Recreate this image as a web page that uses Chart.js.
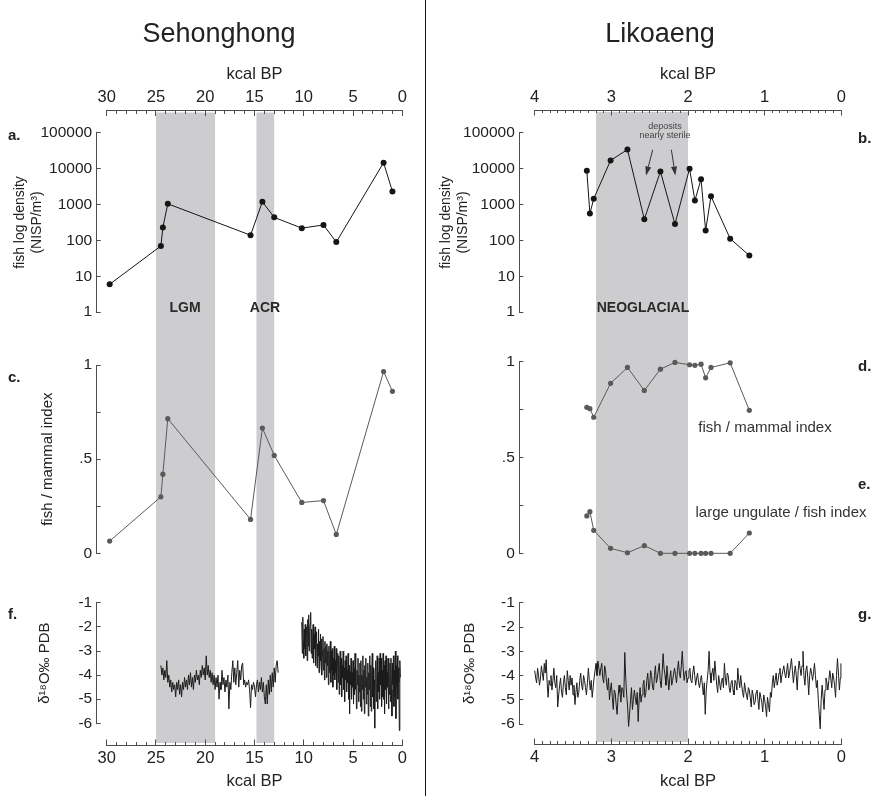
<!DOCTYPE html>
<html>
<head>
<meta charset="utf-8">
<title>Sehonghong / Likoaeng</title>
<script src="https://cdn.jsdelivr.net/npm/chart.js@4.4.1/dist/chart.umd.min.js"></script>
<style>
  html, body { margin: 0; padding: 0; background: #fff; }
  #fig { position: relative; width: 876px; height: 796px; overflow: hidden;
         font-family: "Liberation Sans", Arial, sans-serif; color: #222; }
  #fig canvas { position: absolute; }
  .lbl { position: absolute; transform: translate(-50%, -50%); white-space: nowrap; }
  .site { font-size: 27px; }
  .tag { position: absolute; transform: translateY(-50%); font-weight: bold; font-size: 15px; }
  .zone { font-weight: bold; font-size: 14px; color: #2a2a2a; }
  .note { font-size: 9px; color: #444; }
  .idx { font-size: 15px; color: #333; }
  #divider { position: absolute; left: 424.5px; top: 0; width: 1.5px; height: 796px; background: #111; }
</style>
</head>
<body>
<div id="fig">
  <canvas id="bgL" width="425" height="796" style="left:0;top:0"></canvas>
  <canvas id="bgR" width="450" height="796" style="left:426px;top:0"></canvas>
  <canvas id="pa" width="425" height="215" style="left:0;top:115px"></canvas>
  <canvas id="pc" width="425" height="235" style="left:0;top:340px"></canvas>
  <canvas id="pf" width="425" height="175" style="left:0;top:585px"></canvas>
  <canvas id="pb" width="450" height="215" style="left:426px;top:115px"></canvas>
  <canvas id="pde" width="450" height="235" style="left:426px;top:340px"></canvas>
  <canvas id="pg" width="450" height="175" style="left:426px;top:585px"></canvas>

  <div id="divider"></div>

  <div class="lbl site" style="left:219px;top:33px">Sehonghong</div>
  <div class="lbl site" style="left:660px;top:33px">Likoaeng</div>

  <div class="tag" style="left:8px;top:134px">a.</div>
  <div class="tag" style="left:8px;top:376px">c.</div>
  <div class="tag" style="left:8px;top:613px">f.</div>
  <div class="tag" style="left:858px;top:137px">b.</div>
  <div class="tag" style="left:858px;top:365px">d.</div>
  <div class="tag" style="left:858px;top:483px">e.</div>
  <div class="tag" style="left:858px;top:613px">g.</div>

  <div class="lbl zone" style="left:185px;top:307px">LGM</div>
  <div class="lbl zone" style="left:265px;top:307px">ACR</div>
  <div class="lbl zone" style="left:643px;top:307px">NEOGLACIAL</div>

  <div class="lbl note" style="left:665px;top:126px">deposits</div>
  <div class="lbl note" style="left:665px;top:135px">nearly sterile</div>

  <div class="lbl idx" style="left:765px;top:426px">fish / mammal index</div>
  <div class="lbl idx" style="left:781px;top:511px">large ungulate / fish index</div>
</div>

<script>
// Sehonghong faunal samples (kcal BP)
const sehAge = [29.7, 24.5, 24.3, 23.8, 15.4, 14.2, 13.0, 10.2, 8.0, 6.7, 1.9, 1.0];
const sehFishDensity = [6, 70, 230, 1050, 140, 1200, 440, 220, 270, 90, 14700, 2300];
const sehFishMammal = [0.065, 0.30, 0.42, 0.715, 0.18, 0.665, 0.52, 0.27, 0.28, 0.10, 0.965, 0.86];

// Likoaeng faunal samples (kcal BP)
const likAge = [3.32, 3.28, 3.23, 3.01, 2.79, 2.57, 2.36, 2.17, 1.98, 1.91, 1.83, 1.77, 1.70, 1.45, 1.20];
const likFishDensity = [8700, 560, 1450, 17000, 34000, 390, 8400, 285, 10000, 1300, 5100, 190, 1700, 112, 38];
const likFishMammal = [0.762, 0.755, 0.71, 0.887, 0.97, 0.85, 0.961, 0.996, 0.984, 0.981, 0.987, 0.916, 0.97, 0.994, 0.746];
const likUngulateFish = [0.195, 0.217, 0.12, 0.026, 0.003, 0.04, 0, 0, 0, 0, 0, 0, 0, 0, 0.106];

// speleothem d18O, Sehonghong side: older segment
const sehO18AgeA = [
  24.5, 24.4, 24.3, 24.2, 24.1, 24.0, 23.9, 23.8, 23.7, 23.6,
  23.5, 23.4, 23.3, 23.2, 23.1, 23.0, 22.9, 22.8, 22.7, 22.6,
  22.5, 22.4, 22.3, 22.2, 22.1, 22.0, 21.9, 21.8, 21.7, 21.6,
  21.5, 21.4, 21.3, 21.2, 21.1, 21.0, 20.9, 20.8, 20.7, 20.6,
  20.5, 20.4, 20.3, 20.2, 20.1, 20.0, 19.9, 19.8, 19.7, 19.6,
  19.5, 19.4, 19.3, 19.2, 19.1, 19.0, 18.9, 18.8, 18.7, 18.6,
  18.5, 18.4, 18.3, 18.2, 18.1, 18.0, 17.9, 17.8, 17.7, 17.6,
  17.5, 17.4, 17.3, 17.2, 17.1, 17.0, 16.9, 16.8, 16.7, 16.6,
  16.5, 16.4, 16.3, 16.2, 16.1, 16.0, 15.9, 15.8, 15.7, 15.6,
  15.5, 15.4, 15.3, 15.2, 15.1, 15.0, 14.9, 14.8, 14.7, 14.6,
  14.5, 14.4, 14.3, 14.2, 14.1, 14.0, 13.9, 13.8, 13.7, 13.6,
  13.5, 13.4, 13.3, 13.2, 13.1, 13.0, 12.9, 12.8, 12.7, 12.6
];
const sehO18A = [
  -3.6, -4.0, -3.7, -4.2, -3.8, -4.1, -3.4, -4.3, -4.0, -4.5,
  -4.2, -4.7, -4.3, -4.6, -4.4, -4.9, -4.3, -4.6, -4.2, -4.8,
  -4.4, -4.9, -4.3, -4.6, -4.1, -4.5, -4.2, -4.6, -4.0, -4.4,
  -3.9, -4.5, -4.1, -4.6, -4.0, -4.3, -3.8, -4.2, -4.0, -4.4,
  -3.8, -4.1, -3.6, -4.0, -3.7, -4.2, -3.2, -4.0, -3.6, -4.1,
  -3.8, -4.3, -3.9, -4.4, -4.0, -4.6, -4.1, -4.5, -4.0, -5.0,
  -4.3, -4.6, -3.8, -4.4, -4.1, -4.7, -4.2, -4.5, -4.0, -5.4,
  -4.3, -4.6, -3.9, -3.4, -4.3, -3.7, -4.4, -3.9, -3.4, -4.5,
  -3.8, -4.2, -3.6, -3.5, -4.4, -4.2, -4.5, -4.3, -4.4, -4.2,
  -4.6, -5.35, -4.4, -4.6, -4.3, -4.5, -4.9, -4.4, -4.2, -4.7,
  -4.3, -4.6, -4.1, -4.7, -4.3, -4.9, -5.2, -4.4, -5.2, -4.2,
  -4.8, -4.0, -4.7, -3.9, -4.5, -3.7, -4.3, -3.6, -3.4, -3.9
];

// speleothem d18O, Sehonghong side: Holocene segment
const sehO18AgeB = [
  10.20, 10.15, 10.10, 10.05, 10.00, 9.95, 9.90, 9.85, 9.80, 9.75,
  9.70, 9.65, 9.60, 9.55, 9.50, 9.45, 9.40, 9.35, 9.30, 9.25,
  9.20, 9.15, 9.10, 9.05, 9.00, 8.95, 8.90, 8.85, 8.80, 8.75,
  8.70, 8.65, 8.60, 8.55, 8.50, 8.45, 8.40, 8.35, 8.30, 8.25,
  8.20, 8.15, 8.10, 8.05, 8.00, 7.95, 7.90, 7.85, 7.80, 7.75,
  7.70, 7.65, 7.60, 7.55, 7.50, 7.45, 7.40, 7.35, 7.30, 7.25,
  7.20, 7.15, 7.10, 7.05, 7.00, 6.95, 6.90, 6.85, 6.80, 6.75,
  6.70, 6.65, 6.60, 6.55, 6.50, 6.45, 6.40, 6.35, 6.30, 6.25,
  6.20, 6.15, 6.10, 6.05, 6.00, 5.95, 5.90, 5.85, 5.80, 5.75,
  5.70, 5.65, 5.60, 5.55, 5.50, 5.45, 5.40, 5.35, 5.30, 5.25,
  5.20, 5.15, 5.10, 5.05, 5.00, 4.95, 4.90, 4.85, 4.80, 4.75,
  4.70, 4.65, 4.60, 4.55, 4.50, 4.45, 4.40, 4.35, 4.30, 4.25,
  4.20, 4.15, 4.10, 4.05, 4.00, 3.95, 3.90, 3.85, 3.80, 3.75,
  3.70, 3.65, 3.60, 3.55, 3.50, 3.45, 3.40, 3.35, 3.30, 3.25,
  3.20, 3.15, 3.10, 3.05, 3.00, 2.95, 2.90, 2.85, 2.80, 2.75,
  2.70, 2.65, 2.60, 2.55, 2.50, 2.45, 2.40, 2.35, 2.30, 2.25,
  2.20, 2.15, 2.10, 2.05, 2.00, 1.95, 1.90, 1.85, 1.80, 1.75,
  1.70, 1.65, 1.60, 1.55, 1.50, 1.45, 1.40, 1.35, 1.30, 1.25,
  1.20, 1.15, 1.10, 1.05, 1.00, 0.95, 0.90, 0.85, 0.80, 0.75,
  0.70, 0.65, 0.60, 0.55, 0.50, 0.45, 0.40, 0.35, 0.30, 0.25,
  0.20
];
const sehO18B = [
  -1.8, -3.1, -1.6, -2.6, -3.3, -2.1, -2.9, -1.9, -3.2, -2.4,
  -2.0, -3.4, -1.7, -2.8, -1.5, -3.0, -2.2, -1.9, -1.4, -3.1,
  -2.1, -3.3, -2.5, -1.9, -3.5, -2.3, -2.9, -2.0, -3.6, -2.6,
  -2.2, -3.7, -2.7, -3.2, -2.1, -3.9, -2.6, -3.4, -2.3, -3.6,
  -2.5, -4.0, -3.0, -2.4, -3.8, -2.9, -4.2, -2.6, -3.5, -2.8,
  -4.1, -2.7, -3.6, -3.0, -4.4, -2.8, -3.9, -3.2, -2.6, -4.3,
  -3.0, -3.8, -2.9, -4.5, -3.3, -4.0, -2.8, -4.2, -3.4, -3.9,
  -2.9, -4.6, -3.5, -3.1, -4.3, -3.2, -4.8, -3.6, -3.0, -4.4,
  -3.3, -4.9, -3.6, -4.1, -3.0, -4.6, -3.7, -5.1, -3.4, -4.2,
  -3.2, -4.7, -3.8, -4.3, -3.1, -5.0, -3.6, -5.6, -3.9, -4.4,
  -3.3, -5.0, -3.9, -4.5, -3.4, -5.2, -3.7, -4.8, -3.1, -4.6,
  -3.6, -5.4, -3.8, -4.4, -3.3, -5.1, -4.0, -4.7, -3.5, -5.3,
  -3.4, -5.5, -4.0, -4.6, -3.2, -5.0, -3.8, -5.6, -3.6, -4.5,
  -3.3, -5.2, -4.1, -4.8, -3.5, -5.7, -3.9, -4.6, -3.2, -5.3,
  -3.6, -5.5, -4.0, -3.1, -4.9, -3.7, -5.4, -4.2, -6.2, -3.8,
  -3.4, -5.1, -4.3, -3.2, -5.4, -3.9, -4.7, -3.3, -5.0, -3.1,
  -4.4, -3.3, -5.3, -3.8, -4.9, -3.1, -5.0, -3.6, -5.6, -3.4,
  -4.6, -3.2, -5.2, -3.9, -4.5, -3.3, -5.4, -3.7, -4.8, -3.5,
  -5.1, -3.3, -4.6, -5.7, -3.5, -4.4, -3.2, -5.3, -3.8, -4.9,
  -3.0, -5.8, -3.6, -4.5, -3.2, -5.0, -3.7, -4.3, -6.3, -3.4,
  -4.1
];

// speleothem d18O, Likoaeng side
const likO18Age = [
  4.000, 3.9875, 3.975, 3.9625, 3.950, 3.9375, 3.925, 3.9125, 3.900, 3.8875,
  3.875, 3.8625, 3.850, 3.8375, 3.825, 3.8125, 3.800, 3.7875, 3.775, 3.7625,
  3.750, 3.7375, 3.725, 3.7125, 3.700, 3.6875, 3.675, 3.6625, 3.650, 3.6375,
  3.625, 3.6125, 3.600, 3.5875, 3.575, 3.5625, 3.550, 3.5375, 3.525, 3.5125,
  3.500, 3.4875, 3.475, 3.4625, 3.450, 3.4375, 3.425, 3.4125, 3.400, 3.3875,
  3.375, 3.3625, 3.350, 3.3375, 3.325, 3.3125, 3.300, 3.2875, 3.275, 3.2625,
  3.250, 3.2375, 3.225, 3.2125, 3.200, 3.1875, 3.175, 3.1625, 3.150, 3.1375,
  3.125, 3.1125, 3.100, 3.0875, 3.075, 3.0625, 3.050, 3.0375, 3.025, 3.0125,
  3.000, 2.9875, 2.975, 2.9625, 2.950, 2.9375, 2.925, 2.9125, 2.900, 2.8875,
  2.875, 2.8625, 2.850, 2.8375, 2.825, 2.8125, 2.800, 2.7875, 2.775, 2.7625,
  2.750, 2.7375, 2.725, 2.7125, 2.700, 2.6875, 2.675, 2.6625, 2.650, 2.6375,
  2.625, 2.6125, 2.600, 2.5875, 2.575, 2.5625, 2.550, 2.5375, 2.525, 2.5125,
  2.500, 2.4875, 2.475, 2.4625, 2.450, 2.4375, 2.425, 2.4125, 2.400, 2.3875,
  2.375, 2.3625, 2.350, 2.3375, 2.325, 2.3125, 2.300, 2.2875, 2.275, 2.2625,
  2.250, 2.2375, 2.225, 2.2125, 2.200, 2.1875, 2.175, 2.1625, 2.150, 2.1375,
  2.125, 2.1125, 2.100, 2.0875, 2.075, 2.0625, 2.050, 2.0375, 2.025, 2.0125,
  2.000, 1.9875, 1.975, 1.9625, 1.950, 1.9375, 1.925, 1.9125, 1.900, 1.8875,
  1.875, 1.8625, 1.850, 1.8375, 1.825, 1.8125, 1.800, 1.7875, 1.775, 1.7625,
  1.750, 1.7375, 1.725, 1.7125, 1.700, 1.6875, 1.675, 1.6625, 1.650, 1.6375,
  1.625, 1.6125, 1.600, 1.5875, 1.575, 1.5625, 1.550, 1.5375, 1.525, 1.5125,
  1.500, 1.4875, 1.475, 1.4625, 1.450, 1.4375, 1.425, 1.4125, 1.400, 1.3875,
  1.375, 1.3625, 1.350, 1.3375, 1.325, 1.3125, 1.300, 1.2875, 1.275, 1.2625,
  1.250, 1.2375, 1.225, 1.2125, 1.200, 1.1875, 1.175, 1.1625, 1.150, 1.1375,
  1.125, 1.1125, 1.100, 1.0875, 1.075, 1.0625, 1.050, 1.0375, 1.025, 1.0125,
  1.000, 0.9875, 0.975, 0.9625, 0.950, 0.9375, 0.925, 0.9125, 0.900, 0.8875,
  0.875, 0.8625, 0.850, 0.8375, 0.825, 0.8125, 0.800, 0.7875, 0.775, 0.7625,
  0.750, 0.7375, 0.725, 0.7125, 0.700, 0.6875, 0.675, 0.6625, 0.650, 0.6375,
  0.625, 0.6125, 0.600, 0.5875, 0.575, 0.5625, 0.550, 0.5375, 0.525, 0.5125,
  0.500, 0.4875, 0.475, 0.4625, 0.450, 0.4375, 0.425, 0.4125, 0.400, 0.3875,
  0.375, 0.3625, 0.350, 0.3375, 0.325, 0.3125, 0.300, 0.2875, 0.275, 0.2625,
  0.250, 0.2375, 0.225, 0.2125, 0.200, 0.1875, 0.175, 0.1625, 0.150, 0.1375,
  0.125, 0.1125, 0.100, 0.0875, 0.075, 0.0625, 0.050, 0.0375, 0.025, 0.0125,
  0.005
];
const likO18 = [
  -3.8, -4.1, -4.3, -3.7, -4.0, -4.4, -4.1, -3.6, -3.9, -4.2,
  -3.5, -3.9, -3.35, -4.3, -4.9, -4.2, -4.4, -4.0, -4.6, -4.2,
  -3.7, -4.3, -4.5, -4.0, -5.3, -4.8, -4.4, -4.1, -4.7, -4.9,
  -4.3, -4.0, -4.5, -4.8, -3.8, -4.2, -4.6, -4.0, -4.4, -4.1,
  -4.8, -4.4, -5.2, -4.7, -4.3, -4.9, -4.7, -4.2, -3.9, -4.4,
  -4.6, -4.0, -4.2, -4.5, -4.8, -4.3, -3.7, -4.2, -4.6, -4.2,
  -4.9, -4.5, -4.1, -3.8, -3.5, -4.0, -3.4, -3.7, -4.0, -3.7,
  -3.5, -4.1, -4.3, -3.6, -3.8, -4.3, -4.6, -4.1, -5.0, -4.6,
  -4.3, -4.9, -5.4, -4.6, -4.7, -5.2, -5.6, -4.9, -4.4, -4.7,
  -5.1, -4.5, -4.6, -4.9, -3.05, -4.1, -4.8, -5.3, -6.1, -5.6,
  -5.0, -4.5, -5.4, -5.0, -4.6, -4.9, -5.2, -4.7, -5.9, -5.0,
  -4.5, -5.1, -4.8, -4.4, -4.2, -4.9, -4.7, -4.2, -3.9, -4.6,
  -4.4, -3.8, -4.0, -4.5, -4.6, -4.0, -3.6, -4.3, -4.1, -3.8,
  -3.5, -4.2, -4.5, -3.9, -3.1, -3.7, -4.0, -4.4, -3.6, -4.1,
  -4.6, -4.1, -3.8, -4.4, -4.2, -3.9, -3.7, -4.0, -4.3, -3.8,
  -3.4, -3.9, -4.1, -3.6, -3.0, -3.7, -4.2, -3.9, -3.8, -4.3,
  -4.1, -3.8, -3.7, -4.2, -4.3, -3.9, -3.6, -4.0, -4.4, -4.1,
  -3.9, -4.3, -4.5, -4.2, -4.0, -4.4, -4.8, -4.3, -5.6, -4.6,
  -4.2, -3.8, -3.0, -3.9, -4.3, -3.9, -3.7, -4.2, -3.4, -3.9,
  -4.4, -4.7, -4.0, -4.3, -4.6, -4.2, -4.1, -4.5, -3.5, -4.1,
  -4.4, -3.9, -4.0, -4.5, -4.7, -4.3, -4.2, -4.6, -4.8, -4.2,
  -4.3, -4.6, -3.7, -4.2, -4.5, -4.0, -4.4, -4.7, -4.9, -4.3,
  -4.6, -4.8, -5.0, -4.5, -4.6, -4.9, -5.3, -4.6, -4.8, -5.2,
  -5.1, -4.7, -4.6, -5.0, -5.4, -4.7, -4.9, -5.1, -5.5, -4.8,
  -5.0, -5.3, -5.7, -4.9, -5.2, -5.5, -4.7, -4.9, -4.3, -4.0,
  -4.5, -4.2, -3.9, -4.4, -4.2, -3.9, -3.7, -4.3, -4.0, -3.8,
  -3.6, -3.9, -4.1, -3.8, -3.5, -4.1, -3.9, -3.6, -3.3, -3.8,
  -4.3, -3.9, -3.6, -4.0, -4.6, -3.8, -3.4, -3.7, -4.0, -3.6,
  -3.0, -4.0, -4.4, -3.8, -3.6, -4.1, -4.8, -4.0, -3.7, -3.9,
  -4.2, -3.9, -3.5, -4.0, -4.5, -4.2, -5.0, -5.6, -6.2, -5.0,
  -4.4, -4.9, -5.4, -4.6, -4.1, -4.3, -4.6, -4.2, -3.8, -4.1,
  -4.5, -3.9, -4.1, -4.4, -4.9, -4.0, -3.3, -3.9, -4.6, -4.1,
  -3.5
];

// shaded climate periods [from, to] in kcal BP
const sehBands = [[25, 19], [14.8, 13.0]];
const likBands = [[3.2, 2.0]];

// tick values / labels
const logTicks = [1, 10, 100, 1000, 10000, 100000];
const indexTicks = [0, 0.25, 0.5, 0.75, 1];
const indexTickLabels = ['0', '', '.5', '', '1'];
const o18Ticks = [-6, -5, -4, -3, -2, -1];

// "deposits nearly sterile" arrows: [fromAge, fromDensity, toAge, toDensity]
const sterileArrows = [[2.46, 33600, 2.548, 6450], [2.217, 33600, 2.165, 6450]];

const INK = '#222';
const AXIS = '#4d4d4d';
const BAND = '#cdcdd0';
// age span of the panel plots, wider than the age axes so the y axis sits a bit left of the oldest age
const SEH_SPAN = 31.015;
const LIK_SPAN = 4.201;

Chart.defaults.font.family = '"Liberation Sans", Arial, sans-serif';
Chart.defaults.color = INK;

const bandPlugin = {
  id: 'bands',
  beforeDraw(chart, args, opts) {
    const { ctx, chartArea, scales: { x } } = chart;
    ctx.save();
    ctx.fillStyle = BAND;
    opts.ranges.forEach(([a, b]) => {
      const x1 = x.getPixelForValue(a), x2 = x.getPixelForValue(b);
      ctx.fillRect(Math.min(x1, x2), chartArea.top + 2, Math.abs(x2 - x1), chartArea.bottom - chartArea.top - 4);
    });
    ctx.restore();
  }
};

const arrowPlugin = {
  id: 'sterileArrows',
  afterDatasetsDraw(chart) {
    const { ctx, scales: { x, y } } = chart;
    ctx.save();
    ctx.strokeStyle = '#333';
    ctx.fillStyle = '#333';
    ctx.lineWidth = 1;
    sterileArrows.forEach(([a0, v0, a1, v1]) => {
      const x0 = x.getPixelForValue(a0), y0 = y.getPixelForValue(v0);
      const x1 = x.getPixelForValue(a1), y1 = y.getPixelForValue(v1);
      const ang = Math.atan2(y1 - y0, x1 - x0);
      const bx = x1 - 9 * Math.cos(ang), by = y1 - 9 * Math.sin(ang);
      ctx.beginPath();
      ctx.moveTo(x0, y0);
      ctx.lineTo(bx, by);
      ctx.stroke();
      ctx.beginPath();
      ctx.moveTo(x1, y1);
      ctx.lineTo(bx + 3 * Math.sin(ang), by - 3 * Math.cos(ang));
      ctx.lineTo(bx - 3 * Math.sin(ang), by + 3 * Math.cos(ang));
      ctx.closePath();
      ctx.fill();
    });
    ctx.restore();
  }
};

function pts(xs, ys) {
  return xs.map((x, i) => ({ x, y: ys[i] }));
}

function markerLine(xs, ys, color, r) {
  return { data: pts(xs, ys), borderColor: color, borderWidth: 1, pointRadius: r,
    pointBackgroundColor: color, pointBorderWidth: 0, tension: 0, clip: false };
}

function trace(xs, ys) {
  return { data: pts(xs, ys), borderColor: '#1c1c1c', borderWidth: 1, pointRadius: 0, tension: 0, clip: false };
}

// the kcal BP axes (top and bottom) plus the shaded periods, behind the panels
function ageFrame(id, maxAge, major, minor, ranges, pad, topH, botH) {
  const axis = (position, h, titlePad, tickPad) => ({
    type: 'linear', position, min: 0, max: maxAge, reverse: true,
    afterFit: s => { s.height = h; },
    border: { color: AXIS, width: 1 },
    grid: { drawOnChartArea: false, tickLength: -5.5, tickColor: AXIS },
    ticks: {
      stepSize: major, maxTicksLimit: 100, autoSkip: false, maxRotation: 0, padding: tickPad,
      font: { size: 16.5 }, color: INK, callback: v => String(Math.round(v))
    },
    title: { display: true, text: 'kcal BP', font: { size: 16.5 }, color: INK, padding: titlePad }
  });
  // short minor ticks sitting on the same two axis lines
  const minorAxis = (yValue, len) => ({
    type: 'linear', axis: 'x', position: { y: yValue }, min: 0, max: maxAge, reverse: true,
    border: { display: false },
    grid: { drawOnChartArea: false, tickLength: len, tickColor: AXIS },
    ticks: { display: false, stepSize: minor, maxTicksLimit: 100, autoSkip: false }
  });
  return new Chart(document.getElementById(id), {
    type: 'line',
    data: { datasets: [] },
    options: {
      responsive: false, animation: false, devicePixelRatio: 1, events: [],
      layout: { padding: pad, autoPadding: false },
      plugins: { legend: { display: false }, tooltip: { enabled: false }, bands: { ranges } },
      scales: {
        x: axis('top', topH, { top: 5, bottom: 0 }, 8.5),
        x2: axis('bottom', botH, { top: 0, bottom: 4.5 }, 9),
        xm: minorAxis(1, 3),
        xm2: minorAxis(0, -3),
        y: { display: false, min: 0, max: 1 }
      }
    },
    plugins: [bandPlugin]
  });
}

function yTicks(values) {
  return s => { s.ticks = values.map(value => ({ value })); };
}

function panel(id, yWidth, pad, span, y, datasets, extra) {
  return new Chart(document.getElementById(id), {
    type: 'line',
    data: { datasets },
    options: {
      responsive: false, animation: false, devicePixelRatio: 1, events: [],
      layout: { padding: pad, autoPadding: false },
      plugins: { legend: { display: false }, tooltip: { enabled: false } },
      scales: {
        x: { type: 'linear', display: false, min: 0, max: span, reverse: true },
        y: Object.assign({
          afterFit: s => { s.width = yWidth; },
          border: { color: AXIS, width: 1 },
          grid: { drawOnChartArea: false, tickLength: -4, tickColor: AXIS }
        }, y)
      }
    },
    plugins: extra || []
  });
}

const tickFont = { size: 15.5 };

function densityAxis() {
  return {
    type: 'logarithmic', min: 1, max: 100000,
    afterBuildTicks: yTicks(logTicks),
    ticks: { padding: 8.5, font: tickFont, color: INK, autoSkip: false, callback: v => String(v) },
    title: { display: true, text: ['fish log density', '(NISP/m\u00b3)'], font: { size: 14 }, color: INK,
      padding: { top: 11.6, bottom: 0 } }
  };
}

function indexAxis(title) {
  return {
    type: 'linear', min: 0, max: 1,
    afterBuildTicks: yTicks(indexTicks),
    ticks: { padding: 8.5, font: tickFont, color: INK, autoSkip: false,
      callback: v => indexTickLabels[indexTicks.indexOf(v)] },
    title: { display: !!title, text: title || '', font: { size: 15 }, color: INK, padding: { top: 38.5, bottom: 0 } }
  };
}

function o18Axis(titlePad) {
  return {
    type: 'linear', min: -6, max: -1,
    afterBuildTicks: yTicks(o18Ticks),
    ticks: { padding: 8.5, font: tickFont, color: INK, autoSkip: false, callback: v => String(v) },
    title: { display: true, text: '\u03b4\u00b9\u2078O\u2030 PDB', font: { size: 15 }, color: INK,
      padding: { top: titlePad, bottom: 0 } }
  };
}

// Sehonghong column
ageFrame('bgL', 30, 5, 1, sehBands, { left: 106.7, right: 22.7, top: 60, bottom: 0 }, 50.5, 51);
panel('pa', 96.7, { left: 0, right: 22.7, top: 15.7, bottom: 13.3 }, SEH_SPAN, densityAxis(),
  [markerLine(sehAge, sehFishDensity, '#151515', 3)]);
panel('pc', 96.7, { left: 0, right: 22.7, top: 25, bottom: 21.7 }, SEH_SPAN, indexAxis('fish / mammal index'),
  [markerLine(sehAge, sehFishMammal, '#5a5a5a', 2.6)]);
panel('pf', 96.7, { left: 0, right: 22.7, top: 17.3, bottom: 36.7 }, SEH_SPAN, o18Axis(36),
  [trace(sehO18AgeA, sehO18A), trace(sehO18AgeB, sehO18B)]);

// Likoaeng column
ageFrame('bgR', 4, 1, 0.1, likBands, { left: 108.7, right: 34.7, top: 60, bottom: 0 }, 50, 52);
panel('pb', 93.3, { left: 0, right: 34.7, top: 15.7, bottom: 13.3 }, LIK_SPAN, densityAxis(),
  [markerLine(likAge, likFishDensity, '#151515', 3)], [arrowPlugin]);
panel('pde', 93.3, { left: 0, right: 34.7, top: 21.7, bottom: 21.7 }, LIK_SPAN, indexAxis(''),
  [markerLine(likAge, likFishMammal, '#5a5a5a', 2.6), markerLine(likAge, likUngulateFish, '#5a5a5a', 2.6)]);
panel('pg', 93.3, { left: 0, right: 34.7, top: 17.3, bottom: 36 }, LIK_SPAN, o18Axis(35),
  [trace(likO18Age, likO18)]);
</script>
</body>
</html>
